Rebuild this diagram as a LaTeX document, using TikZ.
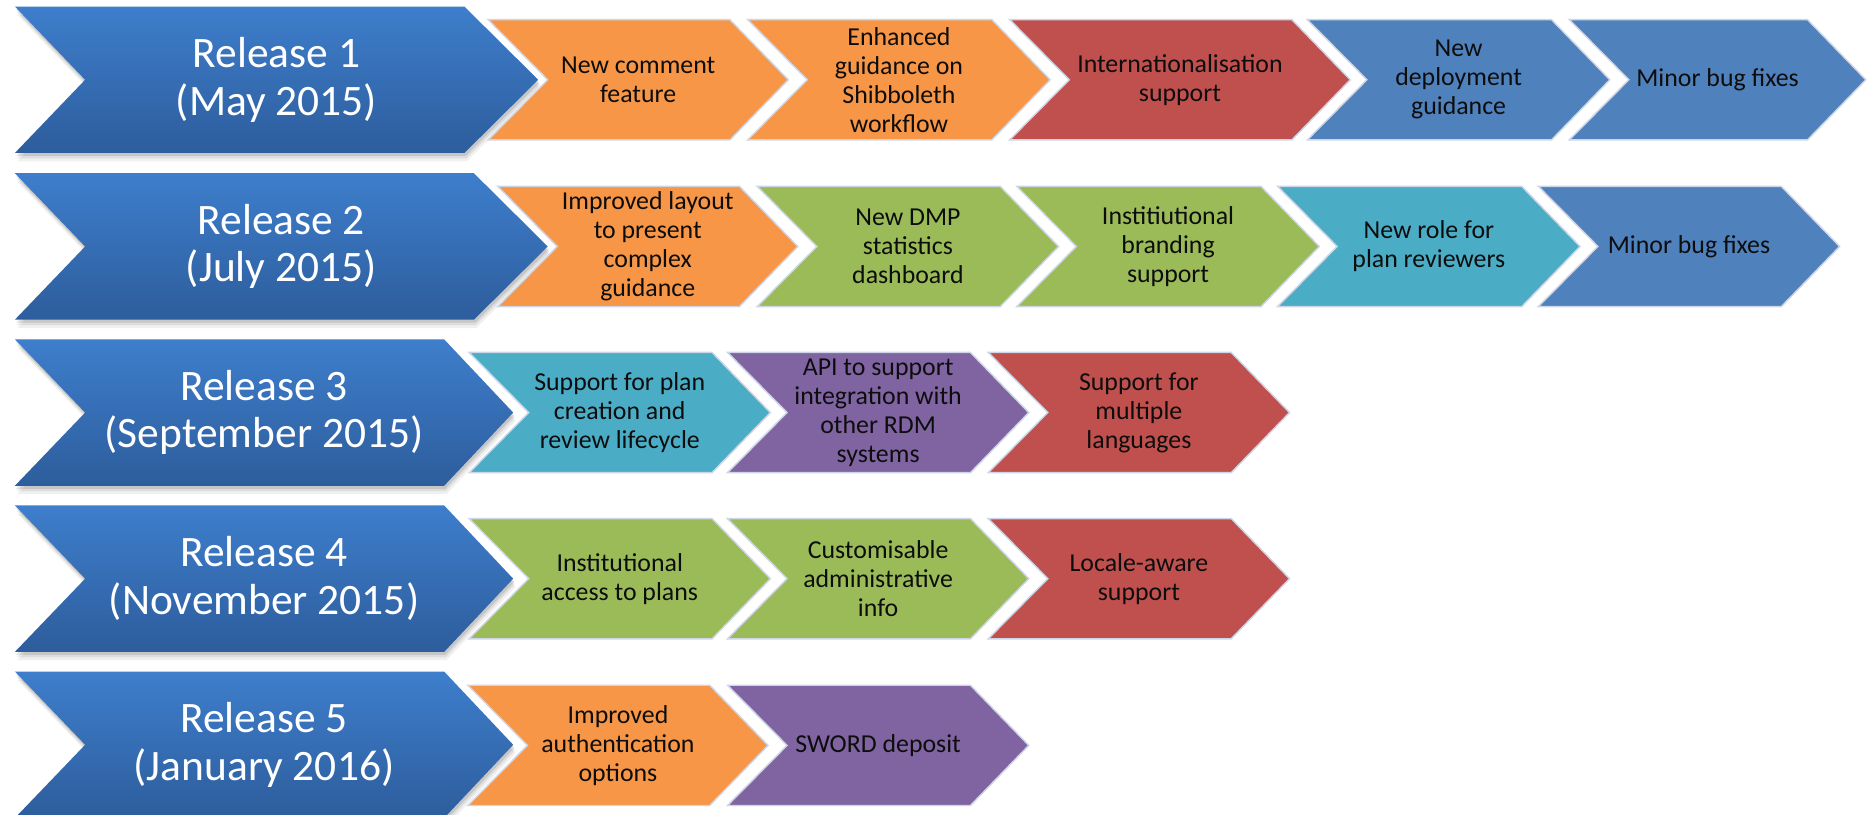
\documentclass[tikz,border=0pt]{standalone}
\usepackage{fontspec}
\setmainfont{Carlito}
\definecolor{corange}{HTML}{F79646}
\definecolor{cred}{HTML}{C0504D}
\definecolor{cblue}{HTML}{4F81BD}
\definecolor{cgreen}{HTML}{9BBB59}
\definecolor{ccyan}{HTML}{4BACC6}
\definecolor{cpurple}{HTML}{8064A2}
\definecolor{bigtop}{HTML}{3E7ECC}
\definecolor{bigbot}{HTML}{2D5D9C}
\definecolor{chevline}{HTML}{CDD5E6}
\tikzset{
  smallchevstyle/.style={draw=chevline, line width=1.2pt, fill=#1},
  bigchevstyle/.style={top color=bigtop, bottom color=bigbot, draw=none},
  smalltext/.style={font=\fontsize{21.7}{24.4}\selectfont, text=black!95, align=center, inner sep=0pt},
  bigtext/.style={font=\fontsize{36.5}{40}\selectfont, text=white, align=center, inner sep=0pt},
  shadowlayer/.style={fill=black, opacity=#1, draw=none},
}
% #1 style, #2 left, #3 tip, #4 midy, #5 halfh, #6 tip depth, #7 notch depth
\newcommand{\chevshape}[7]{%
  \path[#1] (#2,#4-#5) -- ({#3-#6},#4-#5) -- (#3,#4) -- ({#3-#6},#4+#5)
    -- (#2,#4+#5) -- ({#2+#7},#4) -- cycle;}
% #1 name, #2 colour, #3 left, #4 tip, #5 midy, #6 text
\newcommand{\smallchev}[6]{%
  \chevshape{smallchevstyle=#2}{#3}{#4}{#5}{50.5}{49}{50}
  \node[smalltext] (#1) at ({(#3+#4)/2},#5) {#6};}
% #1 name, #2 tip, #3 midy, #4 tip depth, #5 text
\newcommand{\bigchev}[5]{%
  \chevshape{shadowlayer=0.06,shift={(2,7)}}{12.5}{#2}{#3}{61.5}{#4}{59}
  \chevshape{shadowlayer=0.08,shift={(1.5,4.5)}}{12.5}{#2}{#3}{61.5}{#4}{59}
  \chevshape{shadowlayer=0.10,shift={(1,2.5)}}{12.5}{#2}{#3}{61.5}{#4}{59}
  \chevshape{bigchevstyle}{12.5}{#2}{#3}{61.5}{#4}{59}
  \node[bigtext] (#1) at ({(12.5+#2)/2},#3) {#5};}
\begin{document}
\begin{tikzpicture}[x=1pt,y=-1pt]
\useasboundingbox[fill=white] (0,0) rectangle (1568,684);
% Row 1
\bigchev{rel1}{452}{67}{62}{Release 1\\(May 2015)}
\smallchev{r1a}{corange}{410}{662}{67}{New comment\\feature}
\smallchev{r1b}{corange}{628}{882}{67}{Enhanced\\guidance on\\Shibboleth\\workflow}
\smallchev{r1c}{cred}{848}{1134}{67}{Internationalisation\\support}
\smallchev{r1d}{cblue}{1098}{1352}{67}{New\\deployment\\guidance}
\smallchev{r1e}{cblue}{1318}{1567}{67}{Minor bug fixes}
% Row 2
\bigchev{rel2}{460}{207}{62}{Release 2\\(July 2015)}
\smallchev{r2a}{corange}{418}{670}{207}{Improved layout\\to present\\complex\\guidance}
\smallchev{r2b}{cgreen}{636}{889}{207}{New DMP\\statistics\\dashboard}
\smallchev{r2c}{cgreen}{854}{1108}{207}{Institiutional\\branding\\support}
\smallchev{r2d}{ccyan}{1073}{1327}{207}{New role for\\plan reviewers}
\smallchev{r2e}{cblue}{1292}{1545}{207}{Minor bug fixes}
% Row 3
\bigchev{rel3}{431}{346.5}{58}{Release 3\\(September 2015)}
\smallchev{r3a}{ccyan}{394}{647}{346.5}{Support for plan\\creation and\\review lifecycle}
\smallchev{r3b}{cpurple}{611}{864}{346.5}{API to support\\integration with\\other RDM\\systems}
\smallchev{r3c}{cred}{830}{1083}{346.5}{Support for\\multiple\\languages}
% Row 4
\bigchev{rel4}{431}{486}{58}{Release 4\\(November 2015)}
\smallchev{r4a}{cgreen}{394}{647}{486}{Institutional\\access to plans}
\smallchev{r4b}{cgreen}{611}{864}{486}{Customisable\\administrative\\info}
\smallchev{r4c}{cred}{830}{1083}{486}{Locale-aware\\support}
% Row 5
\bigchev{rel5}{431}{625.5}{58}{Release 5\\(January 2016)}
\smallchev{r5a}{corange}{393}{645}{626}{Improved\\authentication\\options}
\smallchev{r5b}{cpurple}{611}{864}{626}{SWORD deposit}
\end{tikzpicture}
\end{document}
